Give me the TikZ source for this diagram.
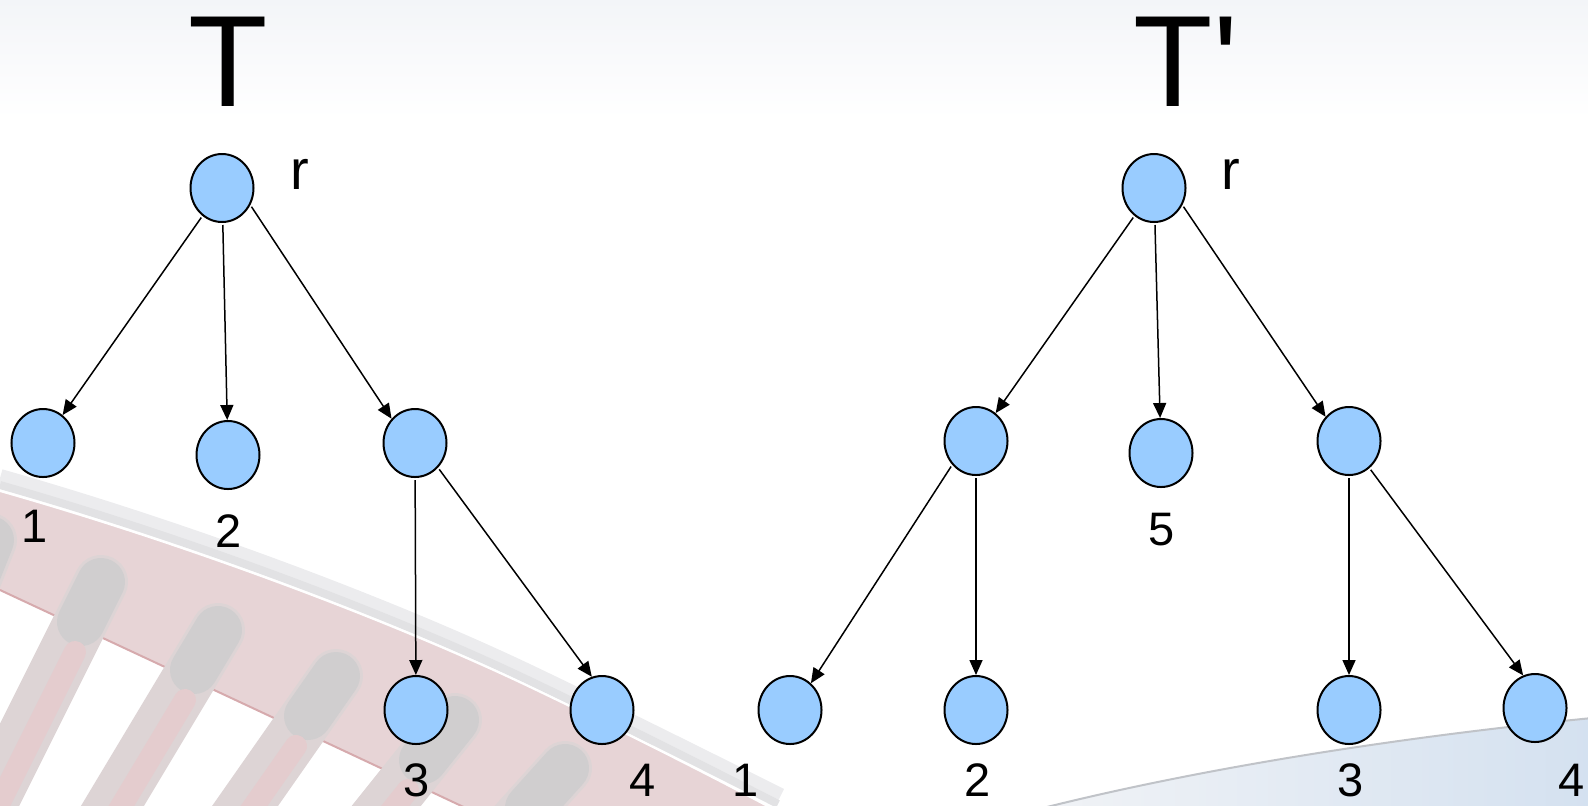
\documentclass[tikz,border=0pt]{standalone}
\usepackage{fontspec}
\setmainfont{Liberation Sans}
\usetikzlibrary{shapes.geometric,arrows.meta}

\definecolor{nodeblue}{RGB}{153,204,255}
\definecolor{topgray}{RGB}{243,245,248}
\definecolor{bandpink}{RGB}{231,212,214}
\definecolor{bandedge}{RGB}{214,170,173}
\definecolor{glowgray}{RGB}{236,236,238}
\definecolor{glowgraydark}{RGB}{226,226,228}
\definecolor{pillarbody}{RGB}{221,212,213}
\definecolor{pillarcap}{RGB}{208,206,207}
\definecolor{pillarstreak}{RGB}{228,204,206}
\definecolor{swooshleft}{RGB}{241,243,246}
\definecolor{swooshright}{RGB}{212,225,240}
\definecolor{swooshedge}{RGB}{192,195,200}

\begin{document}
\begin{tikzpicture}[x=0.5pt,y=-0.5pt,
  vertex/.style={ellipse,draw=black,line width=1pt,fill=nodeblue,
    minimum width=31.5pt,minimum height=34pt,inner sep=0pt},
  lbl/.style={anchor=base,inner sep=0pt,font=\fontsize{23.5}{28}\selectfont},
  rootlbl/.style={anchor=base,inner sep=0pt,font=\fontsize{28}{32}\selectfont},
  titlelbl/.style={anchor=base,inner sep=0pt,font=\fontsize{65}{70}\selectfont},
  edge/.style={line width=0.75pt,-{Triangle[length=7.5pt,width=6.5pt]},shorten <=1pt},
  pillar/.style={line width=27pt,line cap=round,pillarbody},
  pillartop/.style={line width=24pt,line cap=round,pillarcap},
  streak/.style={line width=11pt,line cap=round,pillarstreak}
]
\useasboundingbox (0,0) rectangle (1588,805);
\begin{scope}
\clip (0,0) rectangle (1588,805);

% background: pale band along the top
\shade[top color=topgray,bottom color=white] (0,0) rectangle (1588,118);

% red swoosh with its soft grey rim
\draw[glowgray,line width=9pt] (0,478) .. controls (200,535) and (400,612) .. (530,674)
  .. controls (620,717) and (700,757) .. (780,797);
\draw[glowgraydark,line width=4pt] (0,485) .. controls (200,542) and (400,619) .. (530,681)
  .. controls (620,724) and (700,764) .. (778,804);
\fill[bandpink] (0,491) .. controls (200,548) and (400,625) .. (530,687)
  .. controls (620,730) and (700,770) .. (775,810) -- (470,810)
  .. controls (300,730) and (150,660) .. (0,590) -- cycle;
\draw[bandedge,line width=1pt] (470,810) .. controls (300,730) and (150,660) .. (0,590);
\draw[white,line width=1pt] (0,491) .. controls (200,548) and (400,625) .. (530,687)
  .. controls (620,730) and (700,770) .. (775,810);

% slanted pillars under the swoosh
\foreach \px/\py/\sl in {-10/540/0.4, 101/582/0.5, 218/630/0.6, 336/676/0.7, 455/720/0.8, 565/768/0.9} {
  \draw[pillar] (\px,\py) -- ++({-\sl*400},400);
  \draw[pillartop] (\px,\py) -- ++({-\sl*40},40);
  \draw[streak] ({\px-\sl*70+9},{\py+70}) -- ++({-\sl*400},400);
}

% blue swoosh at the lower right
\shade[left color=swooshleft,right color=swooshright]
  (1035,810) .. controls (1200,768) and (1400,737) .. (1592,718) -- (1592,810) -- cycle;
\draw[swooshedge,line width=1pt]
  (1035,810) .. controls (1200,768) and (1400,737) .. (1592,718);
\end{scope}

% titles
\node[titlelbl] (tA) at (228,106) {T};
\node[titlelbl] (tB) at (1186,106) {T\textquotesingle};

% tree T
\node[vertex] (r1) at (222,188) {};
\node[vertex] (a1) at (43,443) {};
\node[vertex] (b1) at (228,455) {};
\node[vertex] (c1) at (415,443) {};
\node[vertex] (d1) at (416,710) {};
\node[vertex] (e1) at (602,710) {};

% tree T'
\node[vertex] (r2) at (1154,188) {};
\node[vertex] (a2) at (976,441) {};
\node[vertex] (b2) at (1161,453) {};
\node[vertex] (c2) at (1349,441) {};
\node[vertex] (d2) at (790,710) {};
\node[vertex] (e2) at (976,710) {};
\node[vertex] (f2) at (1349,710) {};
\node[vertex] (g2) at (1535,708) {};

% labels
\node[rootlbl] (lr1) at (300,189) {r};
\node[rootlbl] (lr2) at (1231,189) {r};
\node[lbl] (la1) at (35,542) {1};
\node[lbl] (lb1) at (229,547) {2};
\node[lbl] (ld1) at (417,796) {3};
\node[lbl] (le1) at (643,796) {4};
\node[lbl] (lb2) at (1162,545) {5};
\node[lbl] (ld2) at (746,796) {1};
\node[lbl] (le2) at (978,796) {2};
\node[lbl] (lf2) at (1351,796) {3};
\node[lbl] (lg2) at (1572,796) {4};

% edges of T
\draw[edge] (r1) -- (a1);
\draw[edge] (r1) -- (b1);
\draw[edge] (r1.-31) -- (c1.134);
\draw[edge] (c1) -- (d1);
\draw[edge] (c1.-47) -- (e1.107);

% edges of T'
\draw[edge] (r2) -- (a2);
\draw[edge] (r2) -- (b2);
\draw[edge] (r2.-31) -- (c2.134);
\draw[edge] (a2.-135) -- (d2.52);
\draw[edge] (a2) -- (e2);
\draw[edge] (c2) -- (f2);
\draw[edge] (c2.-53) -- (g2.110);
\end{tikzpicture}
\end{document}
